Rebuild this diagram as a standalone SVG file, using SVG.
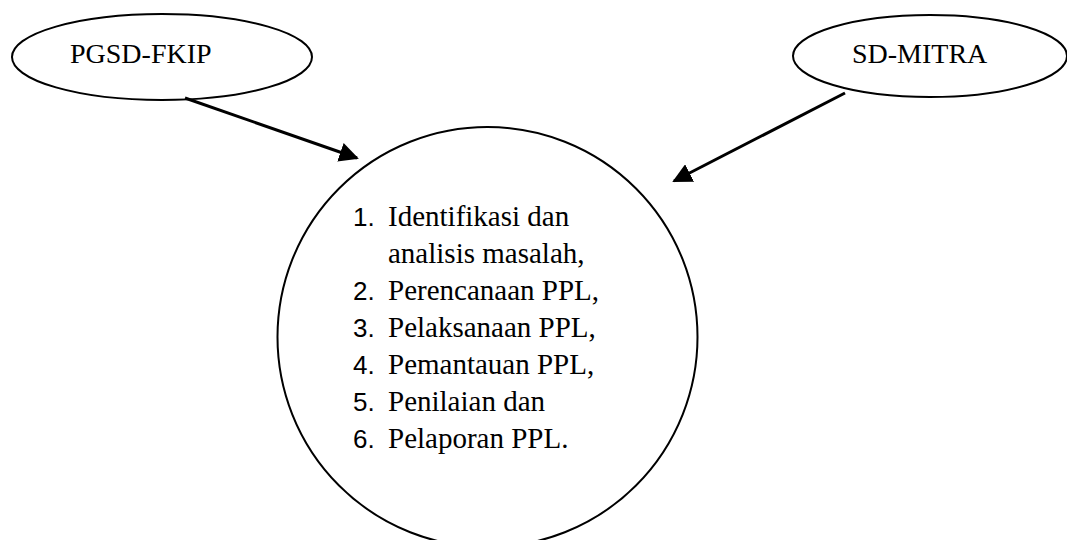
<svg xmlns="http://www.w3.org/2000/svg" width="1067" height="540" viewBox="0 0 1067 540">
<style>
.shape{fill:#fff;stroke:#000;stroke-width:2}
.lbl{font-family:"Liberation Serif","Times New Roman",serif;font-size:28px;fill:#000}
.item{font-family:"Liberation Serif","Times New Roman",serif;font-size:29px;fill:#000}
.num{font-family:"Liberation Sans",Arial,sans-serif;font-size:26px;fill:#000}
.conn{stroke:#000;stroke-width:3;fill:none}
</style>
<defs>
<marker id="ah" viewBox="0 0 10 10" refX="9" refY="5" markerWidth="6.5" markerHeight="6.5" markerUnits="strokeWidth" orient="auto">
<path d="M0,0 L10,5 L0,10 z" fill="#000"/>
</marker>
</defs>
<rect width="1067" height="540" fill="#fff"/>
<g id="node-pgsd">
<ellipse class="shape" cx="162" cy="57" rx="150" ry="43"/>
<text class="lbl" x="70" y="63">PGSD-FKIP</text>
</g>
<g id="node-sdmitra">
<ellipse class="shape" cx="930" cy="56" rx="137" ry="41"/>
<text class="lbl" x="852" y="63">SD-MITRA</text>
</g>
<g id="node-center">
<circle class="shape" cx="487.5" cy="337" r="210"/>
<text class="num" x="353" y="226">1.</text>
<text class="item" x="388" y="226">Identifikasi dan</text>
<text class="item" x="388" y="263">analisis masalah,</text>
<text class="num" x="353" y="300">2.</text>
<text class="item" x="388" y="300">Perencanaan PPL,</text>
<text class="num" x="353" y="337">3.</text>
<text class="item" x="388" y="337">Pelaksanaan PPL,</text>
<text class="num" x="353" y="374">4.</text>
<text class="item" x="388" y="374">Pemantauan PPL,</text>
<text class="num" x="353" y="411">5.</text>
<text class="item" x="388" y="411">Penilaian dan</text>
<text class="num" x="353" y="448">6.</text>
<text class="item" x="388" y="448">Pelaporan PPL.</text>
</g>
<g id="connectors">
<line class="conn" x1="185" y1="98" x2="357" y2="158" marker-end="url(#ah)"/>
<line class="conn" x1="845" y1="93" x2="674" y2="181" marker-end="url(#ah)"/>
</g>
</svg>
